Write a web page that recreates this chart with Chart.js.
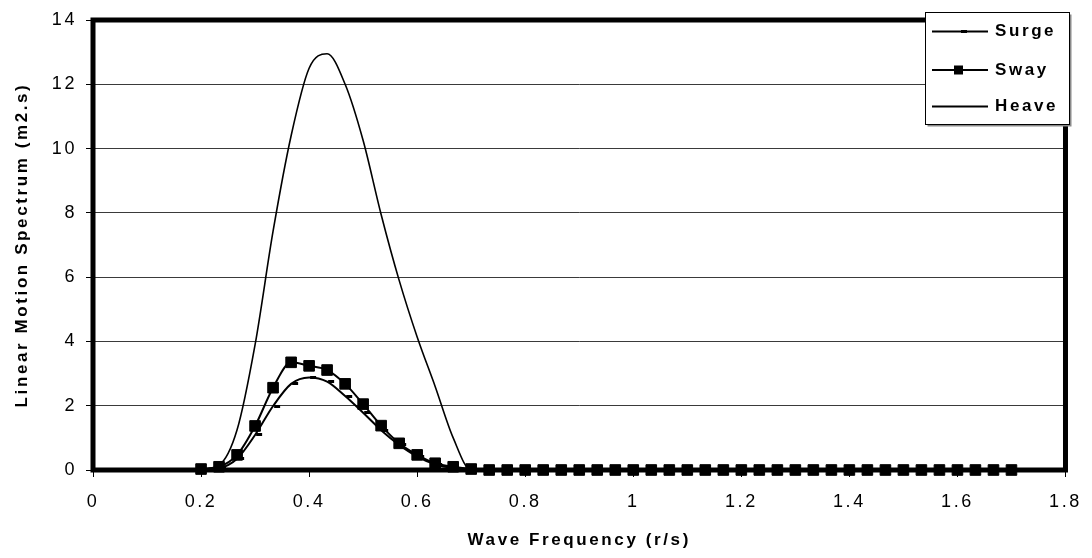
<!DOCTYPE html>
<html lang="en">
<head>
<meta charset="utf-8">
<title>Linear Motion Spectrum</title>
<script src="https://cdn.jsdelivr.net/npm/chart.js@4.4.1/dist/chart.umd.min.js"></script>
<style>
    html, body { margin: 0; padding: 0; background: #fff; }
    canvas { display: block; }
</style>
</head>
<body>
<canvas id="myChart" width="1092" height="558"></canvas>
<script>
// === Dados do gráfico ===
const frequencias = [
    0.2, 0.2333, 0.2667, 0.3, 0.3333, 0.3667, 0.4, 0.4333, 0.4667, 0.5,
    0.5333, 0.5667, 0.6, 0.6333, 0.6667, 0.7, 0.7333, 0.7667, 0.8, 0.8333,
    0.8667, 0.9, 0.9333, 0.9667, 1.0, 1.0333, 1.0667, 1.1, 1.1333, 1.1667,
    1.2, 1.2333, 1.2667, 1.3, 1.3333, 1.3667, 1.4, 1.4333, 1.4667, 1.5,
    1.5333, 1.5667, 1.6, 1.6333, 1.6667, 1.7
];
const surge = [
    0, 0.05, 0.35, 1.09, 1.99, 2.68, 2.88, 2.75, 2.30, 1.78,
    1.24, 0.78, 0.42, 0.18, 0.06, 0.02, 0, 0, 0, 0,
    0, 0, 0, 0, 0, 0, 0, 0, 0, 0,
    0, 0, 0, 0, 0, 0, 0, 0, 0, 0,
    0, 0, 0, 0, 0, 0
];
const sway = [
    0.03, 0.1, 0.47, 1.37, 2.56, 3.35, 3.24, 3.11, 2.68, 2.05,
    1.38, 0.83, 0.47, 0.21, 0.1, 0.03, 0, 0, 0, 0,
    0, 0, 0, 0, 0, 0, 0, 0, 0, 0,
    0, 0, 0, 0, 0, 0, 0, 0, 0, 0,
    0, 0, 0, 0, 0, 0
];
const heave = [
    0.02, 0.15, 1.25, 3.9, 7.43, 10.4, 12.5, 12.95, 12.0, 10.25,
    7.95, 5.9, 4.14, 2.6, 1.0, 0, 0, 0, 0, 0,
    0, 0, 0, 0, 0, 0, 0, 0, 0, 0,
    0, 0, 0, 0, 0, 0, 0, 0, 0, 0,
    0, 0, 0, 0, 0, 0
];
const nomesSeries = ["Surge", "Sway", "Heave"];
const xTickLabels = ["0", "0.2", "0.4", "0.6", "0.8", "1", "1.2", "1.4", "1.6", "1.8"];
const yTickLabels = ["0", "2", "4", "6", "8", "10", "12", "14"];

const FONTE = "'Liberation Sans', Arial, sans-serif";

function pontos(valores) {
    return frequencias.map((f, i) => ({ x: f, y: valores[i] }));
}

// Marcador "traço" do Surge (fica um pouco à direita do ponto, como no Excel)
const traco = document.createElement("canvas");
traco.width = 16;
traco.height = 3;
const tctx = traco.getContext("2d");
tctx.fillStyle = "#000";
tctx.fillRect(9, 0, 6, 3);

// === Plugin: espaçamento das letras + moldura da área do gráfico ===
const moldura = {
    id: "moldura",
    beforeDraw(chart) {
        chart.ctx.letterSpacing = "2.6px";
    },
    beforeDatasetsDraw(chart) {
        const ctx = chart.ctx;
        ctx.letterSpacing = "0px";
        const { left, top, right, bottom } = chart.chartArea;
        ctx.save();
        ctx.lineWidth = 5;
        ctx.strokeStyle = "#000";
        ctx.strokeRect(left, top, right - left, bottom - top);
        ctx.restore();
    },
};

// === Plugin: legenda no canto superior direito ===
const legenda = {
    id: "legenda",
    afterDraw(chart) {
        const ctx = chart.ctx;
        const x0 = 925.5, y0 = 12.5, w = 144, h = 112;
        ctx.save();
        ctx.fillStyle = "#8a8a8a";
        ctx.fillRect(x0 + 2, y0 + 2, w, h);
        ctx.fillStyle = "#fff";
        ctx.fillRect(x0, y0, w, h);
        ctx.strokeStyle = "#000";
        ctx.lineWidth = 1;
        ctx.strokeRect(x0, y0, w, h);

        const linhasY = [31.5, 70, 106.5];
        ctx.lineWidth = 1.8;
        linhasY.forEach((y, i) => {
            ctx.beginPath();
            ctx.moveTo(932, y);
            ctx.lineTo(988, y);
            ctx.stroke();
            if (i === 0) ctx.drawImage(traco, 960 - 8, y - 1.5);
            if (i === 1) ctx.fillRect(954, y - 4.5, 9, 9);

            ctx.letterSpacing = "2.6px";
            ctx.font = `bold 17px ${FONTE}`;
            ctx.textBaseline = "middle";
            ctx.textAlign = "left";
            ctx.fillStyle = "#000";
            ctx.fillText(nomesSeries[i], 995, y);
        });
        ctx.restore();
    },
};

// === Gráfico ===
new Chart("myChart", {
    type: "line",
    data: {
        datasets: [
            {
                label: nomesSeries[0],
                data: pontos(surge),
                borderColor: "#000",
                borderWidth: 2,
                pointStyle: traco,
                pointRadius: 3,
                cubicInterpolationMode: "monotone",
                clip: false,
            },
            {
                label: nomesSeries[1],
                data: pontos(sway),
                borderColor: "#000",
                borderWidth: 2,
                pointStyle: "rect",
                pointRadius: 7.5,
                pointBorderWidth: 1,
                pointBackgroundColor: "#000",
                pointBorderColor: "#000",
                cubicInterpolationMode: "monotone",
                clip: false,
            },
            {
                label: nomesSeries[2],
                data: pontos(heave),
                borderColor: "#000",
                borderWidth: 1.6,
                pointRadius: 0,
                cubicInterpolationMode: "monotone",
                clip: false,
            },
        ],
    },
    options: {
        responsive: false,
        animation: false,
        devicePixelRatio: 1,
        layout: { padding: { top: 20, right: 23, left: 0, bottom: 0 } },
        plugins: {
            legend: { display: false },
            tooltip: { enabled: false },
        },
        scales: {
            x: {
                type: "linear",
                min: 0,
                max: 1.8,
                afterFit: (scale) => { scale.height = 88; },
                afterBuildTicks: (scale) => {
                    scale.ticks = xTickLabels.map((t) => ({ value: parseFloat(t) }));
                },
                ticks: {
                    callback: (v, i) => xTickLabels[i],
                    color: "#000",
                    padding: 14,
                    maxRotation: 0,
                    autoSkip: false,
                    font: { family: FONTE, size: 18 },
                },
                grid: {
                    drawOnChartArea: false,
                    drawTicks: true,
                    tickLength: 7,
                    tickColor: "#000",
                },
                border: { display: false },
                title: {
                    display: true,
                    text: "Wave Frequency (r/s)",
                    color: "#000",
                    padding: { top: 0, bottom: 7 },
                    font: { family: FONTE, size: 17, weight: "bold" },
                },
            },
            y: {
                min: 0,
                max: 14,
                afterFit: (scale) => { scale.width = 93; },
                afterBuildTicks: (scale) => {
                    scale.ticks = yTickLabels.map((t) => ({ value: parseFloat(t) }));
                },
                ticks: {
                    callback: (v, i) => yTickLabels[i],
                    color: "#000",
                    padding: 9,
                    font: { family: FONTE, size: 18 },
                },
                grid: {
                    color: "#3a3a3a",
                    lineWidth: 1,
                    drawTicks: true,
                    tickLength: 7,
                    tickColor: "#000",
                },
                border: { display: false },
                title: {
                    display: true,
                    text: "Linear Motion Spectrum (m2.s)",
                    color: "#000",
                    padding: { top: 12, bottom: 0 },
                    font: { family: FONTE, size: 17, weight: "bold" },
                },
            },
        },
    },
    plugins: [moldura, legenda],
});
</script>
</body>
</html>
